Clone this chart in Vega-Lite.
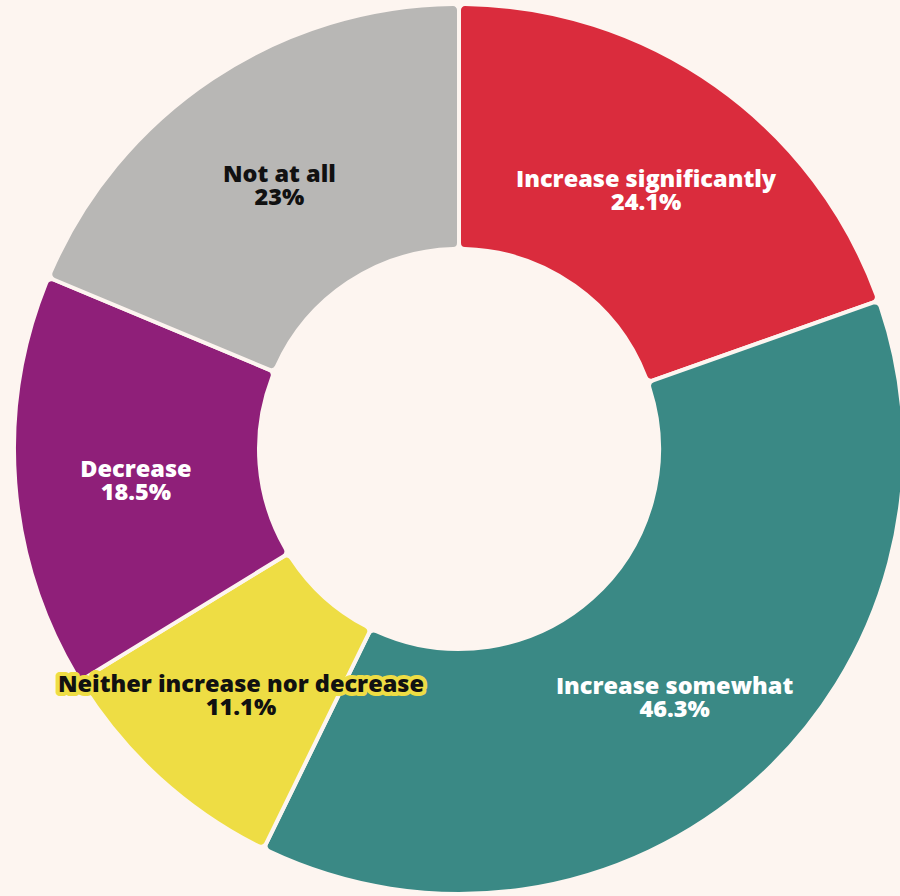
{
  "$schema": "https://vega.github.io/schema/vega-lite/v6.json",
  "width": 882,
  "height": 894,
  "autosize": {"type": "none"},
  "padding": {"left": 18, "top": 2, "right": 0, "bottom": 0},
  "background": "#FDF5F0",
  "config": {"view": {"stroke": null}},
  "data": {
    "values": [
      {"category": "Increase significantly", "value": 24.1, "pct": "24.1%", "order": 1},
      {"category": "Increase somewhat", "value": 46.3, "pct": "46.3%", "order": 2},
      {"category": "Neither increase nor decrease", "value": 11.1, "pct": "11.1%", "order": 3},
      {"category": "Decrease", "value": 18.5, "pct": "18.5%", "order": 4},
      {"category": "Not at all", "value": 23, "pct": "23%", "order": 5}
    ]
  },
  "encoding": {
    "theta": {"field": "value", "type": "quantitative", "stack": true},
    "order": {"field": "order", "type": "quantitative", "sort": "ascending"}
  },
  "layer": [
    {
      "mark": {"type": "arc", "outerRadius": 445, "innerRadius": 200, "cornerRadius": 6, "stroke": "#FDF5F0", "strokeWidth": 4},
      "encoding": {
        "color": {
          "field": "category",
          "type": "nominal",
          "scale": {
            "domain": ["Increase significantly", "Increase somewhat", "Neither increase nor decrease", "Decrease", "Not at all"],
            "range": ["#DA2C3D", "#3A8985", "#EEDD44", "#8F1F79", "#B8B7B5"]
          },
          "legend": null
        }
      }
    },
    {
      "mark": {"type": "text", "radius": 324, "font": "Open Sans", "fontWeight": 800, "fontSize": 23.5, "baseline": "middle", "dy": -4, "fill": "#EEDD44", "stroke": "#EEDD44", "strokeWidth": 8, "strokeJoin": "round"},
      "encoding": {
        "text": {"field": "category"},
        "opacity": {"condition": {"test": "datum.category === 'Neither increase nor decrease'", "value": 1}, "value": 0}
      }
    },
    {
      "mark": {"type": "text", "radius": 324, "font": "Open Sans", "fontWeight": 800, "fontSize": 23.5, "baseline": "middle", "dy": 19, "fill": "#EEDD44", "stroke": "#EEDD44", "strokeWidth": 8, "strokeJoin": "round"},
      "encoding": {
        "text": {"field": "pct"},
        "opacity": {"condition": {"test": "datum.category === 'Neither increase nor decrease'", "value": 1}, "value": 0}
      }
    },
    {
      "mark": {"type": "text", "radius": 324, "font": "Open Sans", "fontWeight": 800, "fontSize": 23.5, "baseline": "middle", "dy": -4},
      "encoding": {
        "text": {"field": "category"},
        "color": {"condition": {"test": "datum.category === 'Not at all' || datum.category === 'Neither increase nor decrease'", "value": "#111111"}, "value": "#FFFFFF"}
      }
    },
    {
      "mark": {"type": "text", "radius": 324, "font": "Open Sans", "fontWeight": 800, "fontSize": 23.5, "baseline": "middle", "dy": 19},
      "encoding": {
        "text": {"field": "pct"},
        "color": {"condition": {"test": "datum.category === 'Not at all' || datum.category === 'Neither increase nor decrease'", "value": "#111111"}, "value": "#FFFFFF"}
      }
    }
  ]
}
